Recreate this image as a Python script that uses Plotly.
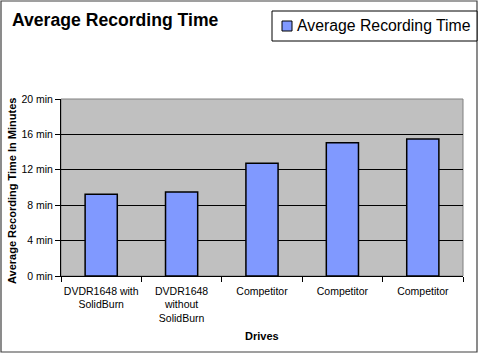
import plotly.graph_objects as go

categories = ["DVDR1648 with<br>SolidBurn", "DVDR1648<br>without<br>SolidBurn",
              "Competitor", "Competitor", "Competitor"]
values = [9.23, 9.49, 12.73, 15.07, 15.48]
y_tickvals = [0, 4, 8, 12, 16, 20]
y_ticktext = ["0 min", "4 min", "8 min", "12 min", "16 min", "20 min"]
series_name = "Average Recording Time"
title_text = "Average Recording Time"
y_title = "Average Recording Time In Minutes"
x_title = "Drives"

W, H = 480, 355
L, R, T, B = 61, 17, 99, 79
PW, PH = W - L - R, H - T - B

def px(xp):
    return (xp - L) / PW

def py(yp):
    return (H - B - yp) / PH

FONT = "Liberation Sans, Arial, sans-serif"
BAR = "#8099FF"

xs = list(range(len(categories)))
fig = go.Figure(go.Bar(
    x=xs, y=values, name=series_name, width=0.4,
    marker=dict(color=BAR, line=dict(color="black", width=1.5)),
    showlegend=False,
))

fig.update_layout(
    width=W, height=H,
    margin=dict(l=L, r=R, t=T, b=B),
    paper_bgcolor="white", plot_bgcolor="#C0C0C0",
    font=dict(family=FONT, size=10.5, color="black"),
    xaxis=dict(range=[-0.5, len(categories) - 0.5], tickmode="array",
               tickvals=xs, ticktext=categories, ticks="outside", ticklen=5,
               tickcolor="rgba(0,0,0,0)", showgrid=False, zeroline=False,
               showline=True, linecolor="black", linewidth=1,
               minor=dict(tickmode="array",
                          tickvals=[i - 0.5 for i in range(len(categories) + 1)],
                          ticks="outside", ticklen=5, tickcolor="black", showgrid=False),
               fixedrange=True),
    yaxis=dict(range=[0, 20], tickmode="array", tickvals=y_tickvals, ticktext=y_ticktext,
               ticks="outside", ticklen=5, tickcolor="black",
               showgrid=True, gridcolor="black", gridwidth=1, zeroline=False,
               showline=True, linecolor="black", linewidth=1, fixedrange=True),
    shapes=[
        dict(type="rect", xref="paper", yref="paper", x0=0, x1=1, y0=0, y1=1,
             line=dict(color="#808080", width=1), layer="below"),
        dict(type="rect", xref="paper", yref="paper", x0=px(1), x1=px(477), y0=py(1), y1=py(352),
             line=dict(color="#404040", width=1.2)),
        dict(type="rect", xref="paper", yref="paper", x0=px(272), x1=px(477), y0=py(11), y1=py(41),
             line=dict(color="black", width=1), fillcolor="white"),
        dict(type="rect", xref="paper", yref="paper", x0=px(282), x1=px(292), y0=py(21), y1=py(31),
             line=dict(color="black", width=1), fillcolor=BAR),
    ],
    annotations=[
        dict(text=title_text, xref="paper", yref="paper", x=px(10), y=py(20),
             xanchor="left", yanchor="middle", showarrow=False,
             font=dict(size=17.6, family=FONT, color="black", weight="bold")),
        dict(text=series_name, xref="paper", yref="paper", x=px(295), y=py(26),
             xanchor="left", yanchor="middle", showarrow=False,
             font=dict(size=15.8, family=FONT, color="black")),
        dict(text=y_title, xref="paper", yref="paper", x=px(12), y=py(191),
             xanchor="center", yanchor="middle", textangle=-90, showarrow=False,
             font=dict(size=11, family=FONT, color="black", weight="bold")),
        dict(text=x_title, xref="paper", yref="paper", x=px(262), y=py(336),
             xanchor="center", yanchor="middle", showarrow=False,
             font=dict(size=11, family=FONT, color="black", weight="bold")),
    ],
)

fig.write_html("out.html", config={"displayModeBar": False},
               post_script="document.body.style.margin='0';")
